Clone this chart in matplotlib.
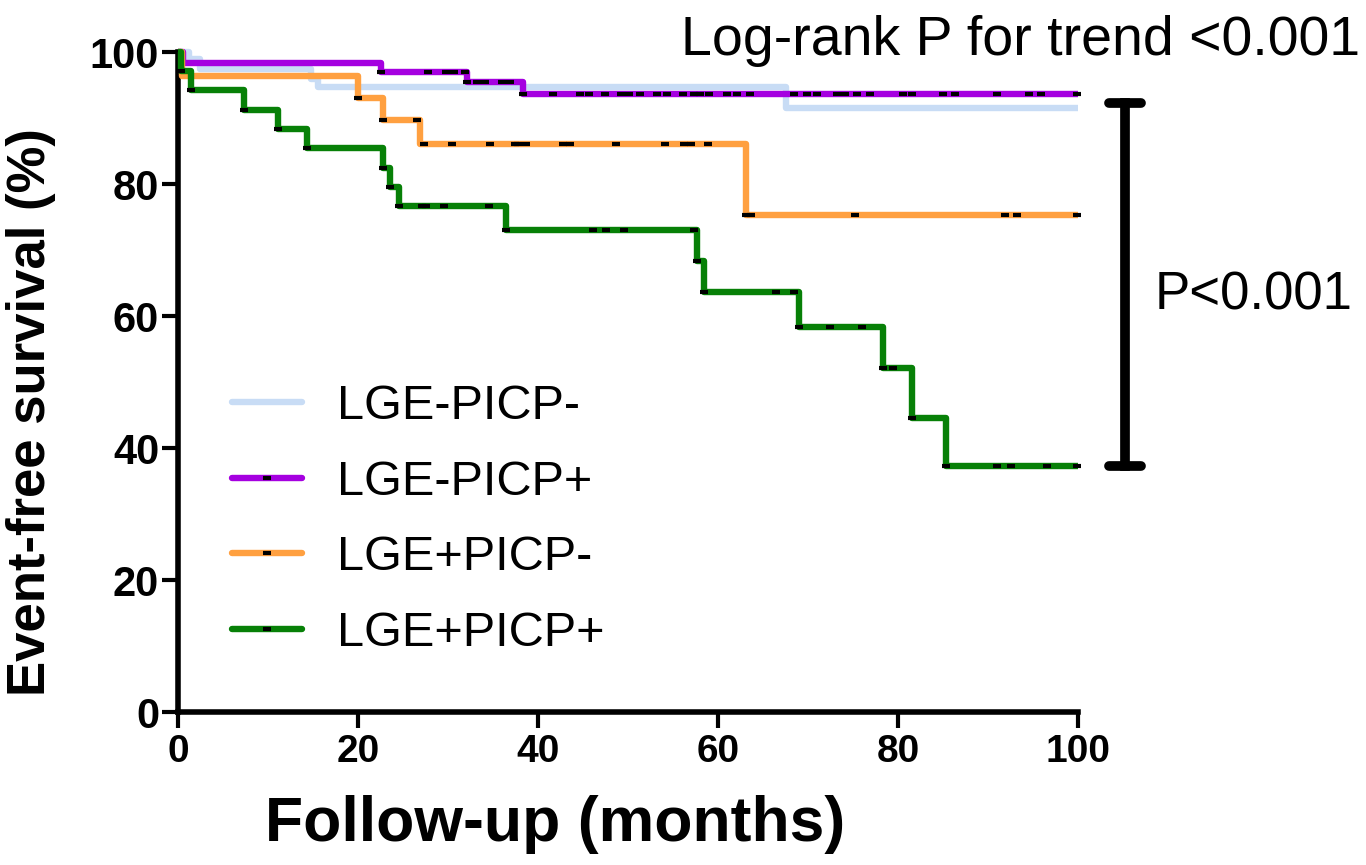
import numpy as np
import matplotlib
matplotlib.use("Agg")
import matplotlib.pyplot as plt
from matplotlib.lines import Line2D

plt.rcParams['font.family'] = ['Liberation Sans', 'DejaVu Sans']

# Kaplan-Meier steps (months, % event-free)
labels = ['LGE-PICP-', 'LGE-PICP+', 'LGE+PICP-', 'LGE+PICP+']
colors = ['#C8DCF5', '#A500E0', '#FFA040', '#078007']

t_neg_neg = [0, 1.2, 2.4, 14.8, 15.5, 67.6]
s_neg_neg = [100, 98.9, 97.4, 95.9, 94.7, 91.5]

t_neg_pos = [0, 0.6, 22.5, 32.1, 38.3]
s_neg_pos = [100, 98.4, 97.0, 95.5, 93.6]

t_pos_neg = [0, 0.4, 20.0, 22.8, 26.9, 63.1]
s_pos_neg = [100, 96.4, 93.1, 89.7, 86.0, 75.3]

t_pos_pos = [0, 0.3, 1.4, 7.3, 11.1, 14.3, 22.8, 23.6, 24.6, 36.4,
             57.7, 58.4, 69.0, 78.3, 81.6, 85.3]
s_pos_pos = [100, 97.1, 94.2, 91.2, 88.3, 85.4, 82.5, 79.5, 76.6, 73.0,
             68.4, 63.7, 58.4, 52.1, 44.6, 37.2]

# censored observations (months)
c_neg_neg = []
c_neg_pos = [22.5, 27.8, 29.8, 30.7, 31.9, 32.1, 33.2, 34.1, 36.0, 36.9,
             38.3, 41.7, 44.7, 45.7, 47.4, 49.2, 50.1, 51.3, 53.2, 54.3,
             56.1, 57.3, 58.0, 59.0, 61.0, 62.1, 63.6, 68.4, 69.9, 71.0,
             73.2, 74.1, 75.4, 76.9, 80.6, 81.5, 85.0, 86.3, 91.0, 94.5,
             95.9, 99.9]
c_pos_neg = [20.0, 22.8, 26.6, 27.3, 30.4, 34.7, 37.4, 37.8, 38.7, 42.8,
             43.6, 48.7, 54.1, 56.2, 57.0, 58.9, 63.1, 63.7, 75.2, 91.9,
             93.2, 99.9]
c_pos_pos = [0.3, 1.4, 7.3, 11.1, 14.3, 22.8, 23.6, 24.6, 27.1, 27.6,
             29.6, 34.6, 36.4, 46.1, 47.6, 49.6, 57.3, 57.7, 58.4, 66.4,
             68.4, 69.0, 72.4, 76.0, 78.3, 79.4, 81.6, 85.3, 91.0, 92.6,
             96.5, 99.9]

times = [t_neg_neg, t_neg_pos, t_pos_neg, t_pos_pos]
survs = [s_neg_neg, s_neg_pos, s_pos_neg, s_pos_pos]
censors = [c_neg_neg, c_neg_pos, c_pos_neg, c_pos_pos]

x_end = 100
bracket_top = 92.3
bracket_bottom = 37.2


def surv_at(t, s, c):
    idx = np.searchsorted(np.asarray(t), np.asarray(c), side='right') - 1
    return np.asarray(s)[idx]


fig = plt.figure(figsize=(13.66, 8.65), dpi=100)
ax = fig.add_axes([178 / 1366, 153 / 865, 900 / 1366, 660 / 865])

for t, s, c, col in zip(times, survs, censors, colors):
    tx = list(t) + [x_end]
    sy = list(s) + [s[-1]]
    ax.step(tx, sy, where='post', color=col, lw=4.6, clip_on=False,
            solid_capstyle='butt', zorder=3)
    if len(c):
        ax.plot(c, surv_at(t, s, c), ls='none', marker='_', ms=5.5,
                mew=3, color='k', clip_on=False, zorder=4)

# bracket between best and worst groups
bx = 105.2
bw = 1.8
ax.plot([bx - bw, bx + bw], [bracket_top] * 2, color='k', lw=7,
        solid_capstyle='round', clip_on=False)
ax.plot([bx - bw, bx + bw], [bracket_bottom] * 2, color='k', lw=7,
        solid_capstyle='round', clip_on=False)
ax.plot([bx, bx], [bracket_bottom, bracket_top], color='k', lw=7,
        clip_on=False)

ax.set_xlim(0, 100)
ax.set_ylim(0, 100)
ax.set_xticks([0, 20, 40, 60, 80, 100])
ax.set_yticks([0, 20, 40, 60, 80, 100])
for side in ['top', 'right']:
    ax.spines[side].set_visible(False)
for side in ['left', 'bottom']:
    ax.spines[side].set_linewidth(4)
ax.tick_params(direction='out', length=11.5, width=3, labelsize=28, pad=2)
ax.tick_params(axis='y', labelsize=30)
ax.tick_params(axis='x', pad=4)
for lab in ax.get_xticklabels() + ax.get_yticklabels():
    lab.set_fontweight('bold')

# axis titles placed as in the reference (x title sits left of centre)
fig.text(31 / 1366, 1 - 412 / 865, 'Event-free survival (%)', rotation=90,
         ha='center', va='center', fontsize=38, fontweight='bold')
fig.text(555 / 1366, 1 - 825 / 865, 'Follow-up (months)', ha='center',
         va='center', fontsize=45, fontweight='bold')

handles = []
for lab, col, c in zip(labels, colors, censors):
    if len(c):
        handles.append(Line2D([], [], color=col, lw=4.6, marker='_', ms=5.5,
                              mew=3, markeredgecolor='k',
                              solid_capstyle='round'))
    else:
        handles.append(Line2D([], [], color=col, lw=4.6,
                              solid_capstyle='round'))
leg = ax.legend(handles, labels, loc='upper left',
                bbox_to_anchor=(232 / 1366, 1 - 384 / 865),
                bbox_transform=fig.transFigure, frameon=False,
                fontsize=35, handlelength=1.45, handletextpad=0.7,
                labelspacing=0.63, numpoints=1, borderaxespad=0,
                borderpad=0)

fig.text(1360 / 1366, 1 - 55 / 865, 'Log-rank P for trend <0.001',
         ha='right', va='baseline', fontsize=40)
fig.text(1155 / 1366, 1 - 310 / 865, 'P<0.001', ha='left', va='baseline',
         fontsize=38)

fig.savefig('out.png', dpi=100)
